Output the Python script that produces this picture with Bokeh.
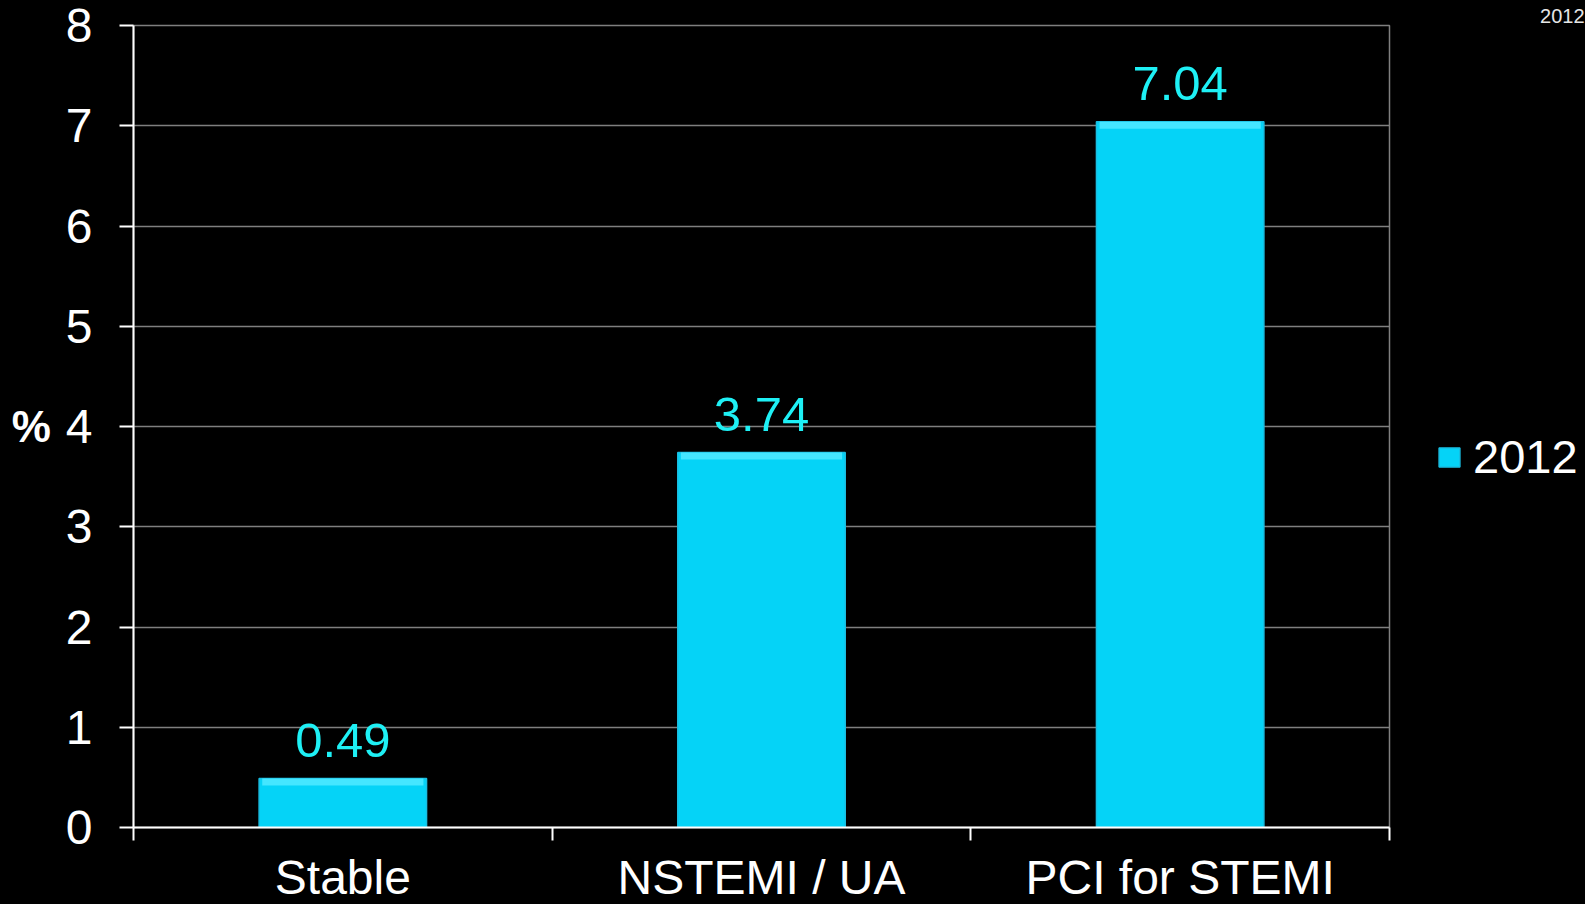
from bokeh.plotting import figure
from bokeh.models import FixedTicker, Legend, LegendItem, ColumnDataSource, Title
from bokeh.core.properties import value
from bokeh.embed import file_html
from bokeh.resources import INLINE

# ---- data ----
categories = ["Stable", "NSTEMI / UA", "PCI for STEMI"]
values = [0.49, 3.74, 7.04]
value_labels = ["0.49", "3.74", "7.04"]
series_name = "2012"
y_ticks = [0, 1, 2, 3, 4, 5, 6, 7, 8]
corner_note = "2012"

FONT = "Liberation Sans"
BAR = "#05D3F7"
BAR_EDGE = "#19BEE2"
BAR_HI = "#45E6FF"
VAL_COLOR = "#1EF0F5"
GRID = "#7F7F7F"

n = len(categories)
xs = [i + 0.5 for i in range(n)]
hi_bottom = [v - 0.07 for v in values]
src = ColumnDataSource(dict(x=xs, top=values, hib=hi_bottom, label=value_labels))

p = figure(frame_width=1256, frame_height=802, x_range=(0, n), y_range=(0, 8),
           output_backend="svg", toolbar_location=None,
           background_fill_color="black", border_fill_color="black",
           min_border_left=133, min_border_right=196,
           min_border_top=25, min_border_bottom=0)

bars = p.vbar(x="x", top="top", bottom=0, width=0.4, source=src,
              fill_color=BAR, line_color=BAR_EDGE, line_width=1.5)
p.vbar(x="x", top="top", bottom="hib", width=0.385, source=src,
       fill_color=BAR_HI, line_color=None)

p.text(x="x", y="top", text="label", source=src, text_align="center",
       text_baseline="alphabetic", y_offset=-38, text_color=VAL_COLOR,
       text_font=value(FONT), text_font_size="49px")

# grid / outline
p.xgrid.visible = False
p.ygrid.ticker = FixedTicker(ticks=y_ticks)
p.ygrid.grid_line_color = GRID
p.ygrid.grid_line_width = 1.5
p.outline_line_color = GRID
p.outline_line_width = 1.5

# y axis
ya = p.yaxis[0]
ya.ticker = FixedTicker(ticks=y_ticks)
ya.axis_label = "%"
ya.axis_label_orientation = "horizontal"
ya.axis_label_text_font = FONT
ya.axis_label_text_font_size = "44px"
ya.axis_label_text_font_style = "bold"
ya.axis_label_text_color = "white"
ya.axis_label_standoff = 12
ya.major_label_text_font = FONT
ya.major_label_text_font_size = "48px"
ya.major_label_text_color = "white"
ya.major_label_standoff = 27
ya.major_tick_out = 14
ya.major_tick_in = 0
ya.minor_tick_out = 0
ya.minor_tick_in = 0
ya.major_tick_line_color = "white"
ya.major_tick_line_width = 2
ya.axis_line_color = "white"
ya.axis_line_width = 2

# x axis: labels centred, ticks on boundaries
xa = p.xaxis[0]
xa.ticker = FixedTicker(ticks=xs, minor_ticks=list(range(n + 1)))
xa.major_label_overrides = {x: c for x, c in zip(xs, categories)}
xa.major_label_text_font = FONT
xa.major_label_text_font_size = "48px"
xa.major_label_text_line_height = 1.0
xa.major_label_text_color = "white"
xa.major_label_standoff = 10
xa.major_tick_out = 0
xa.major_tick_in = 0
xa.minor_tick_out = 13
xa.minor_tick_in = 0
xa.minor_tick_line_color = "white"
xa.minor_tick_line_width = 2
xa.axis_line_color = "white"
xa.axis_line_width = 2

# legend in the right-hand panel
legend = Legend(items=[LegendItem(label=series_name, renderers=[bars])],
                location=(47, 343), orientation="vertical",
                glyph_width=26, glyph_height=24, label_standoff=11,
                label_text_font=FONT, label_text_font_size="47px",
                label_text_color="white", padding=0, margin=0, spacing=0,
                background_fill_alpha=0, border_line_alpha=0)
p.add_layout(legend, "right")

# small note in the top-right corner
note = Title(text=corner_note, align="right", offset=-195, standoff=2,
             vertical_align="top",
             text_font=FONT, text_font_size="20px", text_font_style="normal",
             text_color="#E6E6E6")
p.add_layout(note, "above")

html = file_html(p, INLINE, title="chart")
html = html.replace("<head>", "<head><style>html,body{margin:0;padding:0;background:#000;overflow:hidden}</style>", 1)
open("out.html", "w").write(html)
